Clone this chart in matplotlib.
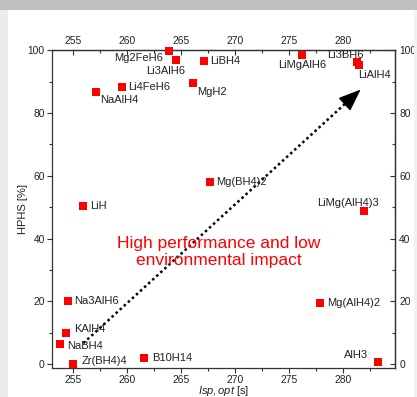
import matplotlib
matplotlib.use("Agg")
import matplotlib.pyplot as plt
from matplotlib.patches import Rectangle
from matplotlib.ticker import MultipleLocator

plt.rcParams['font.family'] = ['Liberation Sans', 'DejaVu Sans']
plt.rcParams['mathtext.fontset'] = 'custom'
plt.rcParams['mathtext.it'] = 'Liberation Sans:italic'
plt.rcParams['mathtext.rm'] = 'Liberation Sans'

# Specific impulse (s) and high-performance/health-safety score (%) per compound
compounds = ["Mg2FeH6", "Li3AlH6", "LiBH4", "MgH2", "Li4FeH6", "NaAlH4",
             "LiMgAlH6", "Li3BH6", "LiAlH4", "Mg(BH4)2", "LiH", "LiMg(AlH4)3",
             "Mg(AlH4)2", "Na3AlH6", "KAlH4", "NaBH4", "Zr(BH4)4", "B10H14", "AlH3"]
isp = [263.9, 264.5, 267.1, 266.1, 259.55, 257.1,
       276.25, 281.3, 281.5, 267.7, 255.9, 281.97,
       277.9, 254.5, 254.35, 253.77, 255.0, 261.56, 283.3]
hphs = [99.8, 97.0, 96.5, 89.7, 88.3, 86.7,
        98.4, 96.3, 95.4, 58.0, 50.5, 48.9,
        19.4, 20.2, 9.9, 6.5, 0.0, 1.9, 0.8]

# label placement: (dx, dy) in pixels from the marker, horizontal alignment
label_pos = {
    "Mg2FeH6": (-6, -7, "right"), "Li3AlH6": (-10, -11, "center"),
    "LiBH4": (6, 0, "left"), "MgH2": (4, -9, "left"),
    "Li4FeH6": (6, 0, "left"), "NaAlH4": (4, -8, "left"),
    "LiMgAlH6": (0, -10, "center"), "Li3BH6": (-11, 7, "center"),
    "LiAlH4": (-1, -10, "left"), "Mg(BH4)2": (6, 0, "left"),
    "LiH": (7, 0, "left"), "LiMg(AlH4)3": (-16, 8, "center"),
    "Mg(AlH4)2": (7, 0, "left"), "Na3AlH6": (6, 0, "left"),
    "KAlH4": (8, 4, "left"), "NaBH4": (7, -2, "left"),
    "Zr(BH4)4": (8, 3, "left"), "B10H14": (8, 0, "left"),
    "AlH3": (-10, 7, "right"),
}

arrow_start = (255.93, 6.7)
arrow_tip = (281.66, 87.5)

W, H = 417, 397
fig = plt.figure(figsize=(W / 100, H / 100), dpi=100)
fig.patch.set_facecolor("white")

# frame bands around the panel
fig.patches.append(Rectangle((0, 1 - 10 / H), 1, 10 / H, transform=fig.transFigure,
                             facecolor="#bfbfbf", edgecolor="none", zorder=0))
fig.patches.append(Rectangle((0, 0), 8 / W, 1 - 10 / H, transform=fig.transFigure,
                             facecolor="#ebebeb", edgecolor="none", zorder=0))
fig.patches.append(Rectangle((414 / W, 0), 3 / W, 1 - 10 / H, transform=fig.transFigure,
                             facecolor="#f2f2f2", edgecolor="none", zorder=0))

ax = fig.add_axes([51.7 / W, 1 - 368 / H, (395 - 51.7) / W, (368 - 50) / H])
ax.set_facecolor("none")
ax.set_xlim(253.0, 284.85)
ax.set_ylim(-1.2, 100.1)

ax.scatter(isp, hphs, marker="s", s=36, color="#ff0000", zorder=3, clip_on=False,
           linewidths=0)

for name, x, y in zip(compounds, isp, hphs):
    dx, dy, ha = label_pos[name]
    ax.annotate(name, (x, y), xytext=(dx, dy), textcoords="offset pixels",
                ha=ha, va="center", fontsize=8, color="#222222")

# dotted trend arrow with a solid head
frac = 1 - 20 / 376
base = (arrow_start[0] + frac * (arrow_tip[0] - arrow_start[0]),
        arrow_start[1] + frac * (arrow_tip[1] - arrow_start[1]))
ax.plot([arrow_start[0], base[0]], [arrow_start[1], base[1]], color="black",
        linestyle=(0, (1, 1.2)), lw=1.8, zorder=2)
ax.annotate("", xy=arrow_tip, xytext=base,
            arrowprops=dict(arrowstyle="-|>,head_length=1.4,head_width=0.55",
                            color="black", lw=1.0, shrinkA=0, shrinkB=0))

ax.text(268.5, 35.7, "High performance and low\nenvironmental impact",
        color="#ff0000", fontsize=12.5, ha="center", va="center")

ax.set_xlabel(r"$\mathit{Isp,opt}$ [s]", fontsize=8, color="#222222", labelpad=-1)
ax.set_ylabel("HPHS [%]", fontsize=8, color="#222222", labelpad=0)

for sp in ax.spines.values():
    sp.set_color("#333333")
    sp.set_linewidth(0.9)

tick_style = dict(colors="#333333", labelcolor="#222222", labelsize=7.4, width=0.8)

# mirrored scales on the top and right edges
top = ax.secondary_xaxis("top")
right = ax.secondary_yaxis("right")
for a in (ax, top, right):
    a.xaxis.set_major_locator(MultipleLocator(5)) if a is not right else None
    a.xaxis.set_minor_locator(MultipleLocator(2.5)) if a is not right else None
    a.yaxis.set_major_locator(MultipleLocator(20)) if a is not top else None
    a.yaxis.set_minor_locator(MultipleLocator(10)) if a is not top else None
    a.tick_params(which="both", **tick_style)
    a.tick_params(which="major", length=3.5)
    a.tick_params(which="minor", length=2.2)
for a in (top, right):
    for sp in a.spines.values():
        sp.set_color("#333333")
        sp.set_linewidth(0.9)

ax.tick_params(which="both", direction="out", pad=1.5)
top.tick_params(which="both", direction="in", pad=3)
right.tick_params(which="both", direction="in", pad=3)

fig.savefig("out.png", dpi=100)
